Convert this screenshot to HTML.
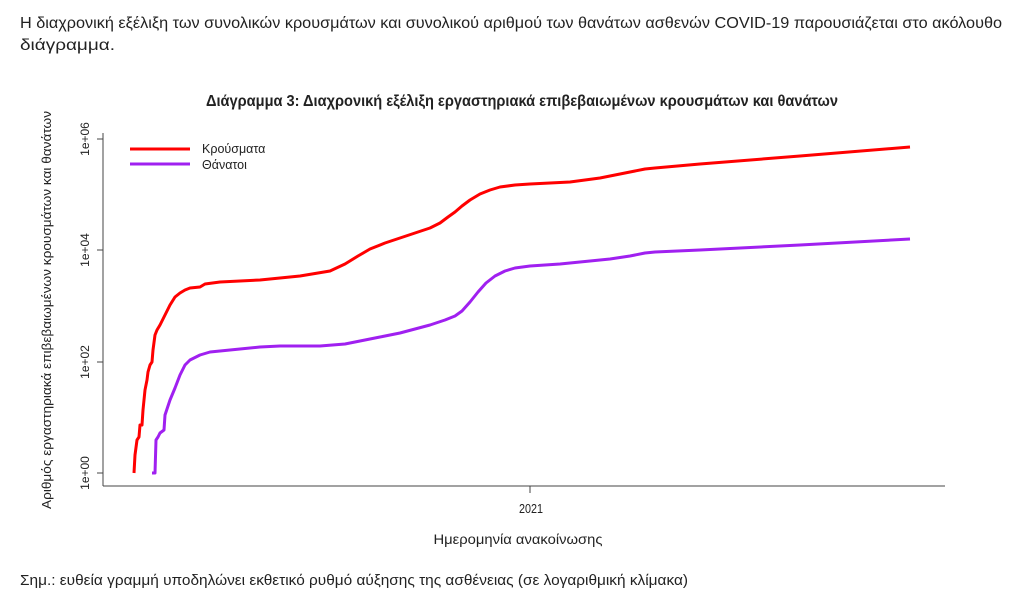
<!DOCTYPE html>
<html><head><meta charset="utf-8"><style>
html,body{margin:0;padding:0;background:#fff;}
svg{display:block;}
text{font-family:"Liberation Sans Narrow","Liberation Sans","DejaVu Sans",sans-serif;fill:#222;}
</style></head><body>
<svg width="1024" height="614" viewBox="0 0 1024 614" xmlns="http://www.w3.org/2000/svg">
<text x="20" y="28" font-size="15.5" textLength="982" lengthAdjust="spacingAndGlyphs">Η διαχρονική εξέλιξη των συνολικών κρουσμάτων και συνολικού αριθμού των θανάτων ασθενών COVID-19 παρουσιάζεται στο ακόλουθο</text>
<text x="20" y="50" font-size="15.5" textLength="95" lengthAdjust="spacingAndGlyphs">διάγραμμα.</text>
<text x="206" y="106" font-size="15.5" font-weight="bold" textLength="632" lengthAdjust="spacingAndGlyphs" fill="#000">Διάγραμμα 3: Διαχρονική εξέλιξη εργαστηριακά επιβεβαιωμένων κρουσμάτων και θανάτων</text>
<g stroke="#444" stroke-width="1" fill="none">
<line x1="103" y1="133" x2="103" y2="486"/>
<line x1="103" y1="486" x2="945" y2="486"/>
<line x1="97" y1="139" x2="103" y2="139"/>
<line x1="97" y1="250" x2="103" y2="250"/>
<line x1="97" y1="362" x2="103" y2="362"/>
<line x1="97" y1="473" x2="103" y2="473"/>
<line x1="530" y1="486" x2="530" y2="493"/>
</g>
<g font-size="12">
<text transform="translate(89,139) rotate(-90)" text-anchor="middle">1e+06</text>
<text transform="translate(89,250) rotate(-90)" text-anchor="middle">1e+04</text>
<text transform="translate(89,362) rotate(-90)" text-anchor="middle">1e+02</text>
<text transform="translate(89,473) rotate(-90)" text-anchor="middle">1e+00</text>
</g>
<text x="531" y="513" font-size="13" text-anchor="middle" textLength="24" lengthAdjust="spacingAndGlyphs">2021</text>
<text x="518" y="544" font-size="13.5" text-anchor="middle" textLength="169" lengthAdjust="spacingAndGlyphs">Ημερομηνία ανακοίνωσης</text>
<text transform="translate(51,310) rotate(-90)" font-size="13" text-anchor="middle" textLength="398" lengthAdjust="spacingAndGlyphs">Αριθμός εργαστηριακά επιβεβαιωμένων κρουσμάτων και θανάτων</text>
<text x="20" y="585" font-size="15" textLength="668" lengthAdjust="spacingAndGlyphs">Σημ.: ευθεία γραμμή υποδηλώνει εκθετικό ρυθμό αύξησης της ασθένειας (σε λογαριθμική κλίμακα)</text>
<line x1="130" y1="149" x2="190" y2="149" stroke="#ff0000" stroke-width="3"/>
<line x1="130" y1="164" x2="190" y2="164" stroke="#a020f0" stroke-width="3"/>
<text x="202" y="153" font-size="12.5" font-family="Liberation Sans,sans-serif">Κρούσματα</text>
<text x="202" y="169" font-size="12.5" font-family="Liberation Sans,sans-serif">Θάνατοι</text>
<polyline fill="none" stroke="#ff0000" stroke-width="3" stroke-linejoin="round" points="134,473 135,455 137,440 139,437 140,425 142,425 143,410 145,390 147,380 148,372 150,365 152,362 153,350 155,335 157,330 160,325 165,315 170,305 175,297 180,293 185,290 190,288 200,287 205,284 220,282 260,280 300,276 330,271 345,264 358,256 370,249 385,243 400,238 415,233 430,228 440,223 448,217 455,212 462,206 470,200 480,194 490,190 500,187 515,185 530,184 550,183 570,182 585,180 600,178 615,175 630,172 645,169 655,168 700,164 800,156 910,147"/>
<polyline fill="none" stroke="#a020f0" stroke-width="3" stroke-linejoin="round" points="152,473 155,473 156,440 158,437 160,433 164,430 165,415 170,400 175,388 180,375 185,365 190,360 200,355 210,352 220,351 240,349 260,347 280,346 320,346 345,344 360,341 380,337 400,333 415,329 430,325 445,320 455,316 462,311 470,302 478,292 486,283 495,276 505,271 515,268 530,266 560,264 590,261 610,259 630,256 645,253 655,252 700,250 800,245 910,239"/>
</svg>
</body></html>
